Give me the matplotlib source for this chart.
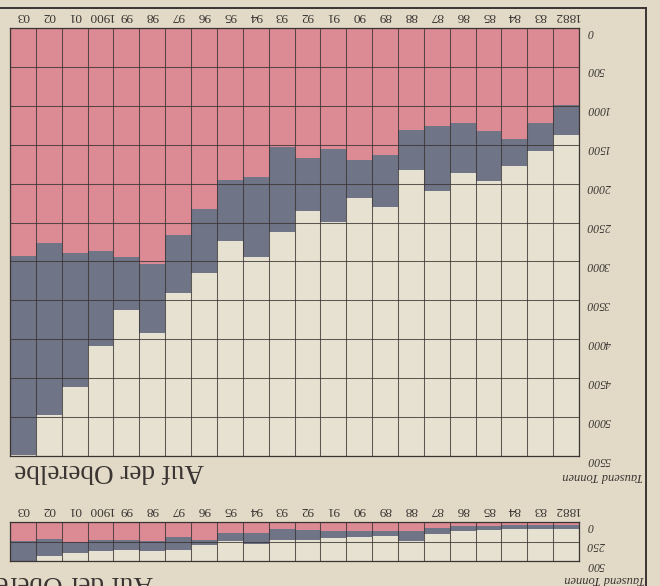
import matplotlib
matplotlib.use('Agg')
import matplotlib.pyplot as plt
from matplotlib.lines import Line2D
from matplotlib.transforms import ScaledTranslation
import numpy as np

# Jahre (Bild steht auf dem Kopf: 1882 rechts, 1903 links)
years = ['1882', '83', '84', '85', '86', '87', '88', '89', '90', '91', '92',
         '93', '94', '95', '96', '97', '98', '99', '1900', '01', '02', '03']

# oberes Diagramm, Tausend Tonnen
upper_pink = [990, 1220, 1430, 1330, 1215, 1260, 1305, 1635, 1690, 1560, 1670,
              1530, 1920, 1950, 2330, 2660, 3030, 2940, 2860, 2890, 2760, 2930]
upper_total = [1370, 1585, 1775, 1965, 1865, 2095, 1830, 2300, 2190, 2490, 2355,
               2620, 2940, 2740, 3145, 3400, 3925, 3630, 4085, 4610, 4970, 5490]
upper_ticks = list(range(0, 5501, 500))

# unteres Diagramm
lower_pink = [38, 38, 42, 51, 51, 81, 110, 110, 110, 114, 102,
              93, 136, 144, 229, 187, 238, 229, 229, 250, 220, 238]
lower_total = [85, 93, 93, 102, 110, 153, 238, 174, 187, 208, 229,
               229, 280, 238, 293, 356, 369, 356, 378, 399, 433, 500]
lower_ticks = [0, 250, 500]

PAPER = '#e2dac6'
CREAM = '#e7e1d1'
PINK = '#dc8a94'
GREY = '#6f7487'
INK = '#3a3433'
SERIF = 'Liberation Serif'

W, H = 660, 586
fig = plt.figure(figsize=(W / 100, H / 100), dpi=100, facecolor=PAPER)


def px_axes(x0, y0, x1, y1):
    return fig.add_axes([x0 / W, 1 - y1 / H, (x1 - x0) / W, (y1 - y0) / H])


def draw_panel(ax, pink, total, ticks, ymax):
    n = len(years)
    x = np.arange(n) + 0.5
    pink = np.array(pink)
    total = np.array(total)
    ax.set_facecolor(CREAM)
    ax.bar(x, pink, width=1.0, color=PINK, linewidth=0, zorder=1)
    ax.bar(x, total - pink, bottom=pink, width=1.0, color=GREY, linewidth=0, zorder=1)
    ax.set_xlim(n, 0)
    ax.set_ylim(ymax, 0)

    ax.set_xticks(np.arange(n + 1), minor=True)
    ax.set_xticks(x)
    ax.set_xticklabels(years, rotation=180, fontsize=9.5, family=SERIF, color=INK)
    ax.xaxis.tick_top()
    ax.tick_params(axis='x', which='both', length=0, pad=4)

    ax.set_yticks(ticks)
    ax.set_yticklabels([str(t) for t in ticks], rotation=180, fontsize=8.5,
                       family=SERIF, style='italic', color=INK, ha='left')
    ax.yaxis.tick_right()
    ax.tick_params(axis='y', length=0, pad=6)
    off = ScaledTranslation(0, -1.5 / 72, fig.dpi_scale_trans)
    for lab in ax.get_yticklabels():
        lab.set_transform(lab.get_transform() + off)

    ax.set_axisbelow(False)
    ax.grid(which='minor', axis='x', color=INK, linewidth=0.75, alpha=0.8)
    ax.grid(which='major', axis='y', color=INK, linewidth=0.75, alpha=0.8)
    for s in ax.spines.values():
        s.set_color(INK)
        s.set_linewidth(0.9)


ax1 = px_axes(10, 28, 579, 456)
draw_panel(ax1, upper_pink, upper_total, upper_ticks, 5500)

ax2 = px_axes(10, 522, 579, 561)
draw_panel(ax2, lower_pink, lower_total, lower_ticks, 500)

# Beschriftungen (auf dem Kopf)
fig.text(643 / W, 1 - 476 / H, 'Tausend Tonnen', rotation=180, ha='right', va='center',
         fontsize=9, family=SERIF, style='italic', color=INK)
fig.text(204 / W, 1 - 471 / H, 'Auf der Oberelbe', rotation=180, ha='right', va='center',
         fontsize=19.5, family=SERIF, color=INK)
fig.text(645 / W, 1 - 579 / H, 'Tausend Tonnen', rotation=180, ha='right', va='center',
         fontsize=9, family=SERIF, style='italic', color=INK)
# unten am Bildrand abgeschnitten wie im Original
fig.text(153 / W, 1 - 582 / H, 'Auf der Oberelbe', rotation=180, ha='right', va='center',
         fontsize=19.5, family=SERIF, color=INK)

# Rahmen
fig.add_artist(Line2D([0, 646 / W], [1 - 8 / H, 1 - 8 / H], transform=fig.transFigure,
                      color=INK, linewidth=1.4))
fig.add_artist(Line2D([646 / W, 646 / W], [1 - 8 / H, 0], transform=fig.transFigure,
                      color=INK, linewidth=1.4))

fig.savefig('out.png', dpi=100, facecolor=PAPER)
